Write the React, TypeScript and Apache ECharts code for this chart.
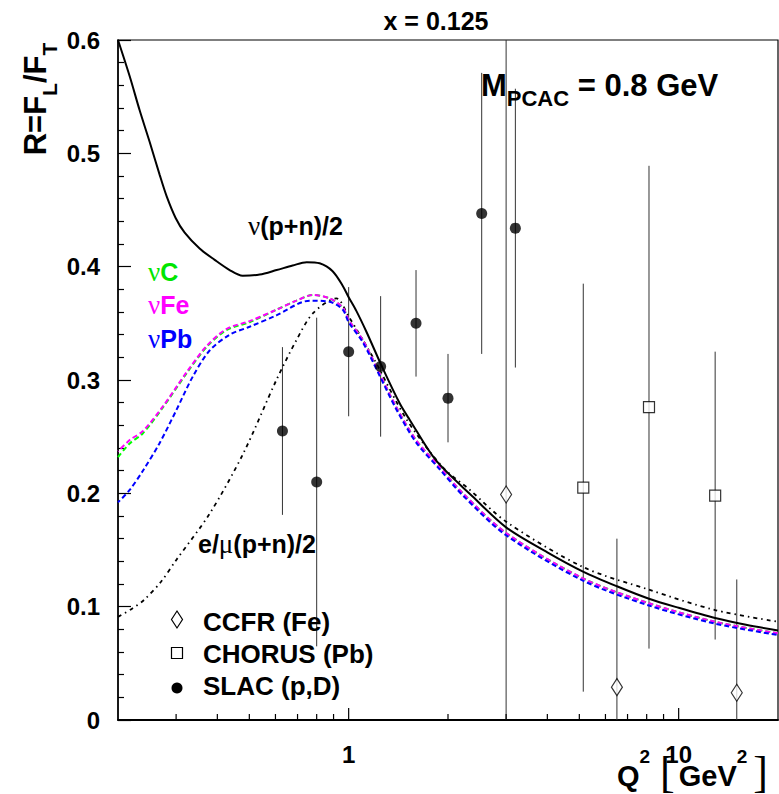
import React, { useEffect, useRef } from 'react';
import * as echarts from 'echarts';

const FONT = '"Liberation Sans", Arial, Helvetica, sans-serif';
const SERIF = '"Liberation Serif", "DejaVu Serif", serif';

// ---------- Data ----------
const nuPNQ2 = [0.2, 0.217, 0.2326, 0.2495, 0.2675, 0.2809, 0.299, 0.3185, 0.3535, 0.3925, 0.4358, 0.4774, 0.5375, 0.6049, 0.6765, 0.7459, 0.8167, 0.8942, 0.96, 1.0, 1.055, 1.13, 1.27, 1.43, 1.53, 1.84, 2.38, 3.0, 4.0, 5.13, 6.5, 8.13, 10, 12.9, 16, 20];
const nuPNR = [0.6, 0.568, 0.538, 0.51, 0.481, 0.462, 0.443, 0.43, 0.416, 0.406, 0.397, 0.392, 0.393, 0.397, 0.401, 0.404, 0.403, 0.396, 0.383, 0.373, 0.361, 0.343, 0.31, 0.279, 0.265, 0.229, 0.197, 0.17, 0.148, 0.131, 0.118, 0.107, 0.099, 0.09, 0.084, 0.079];

const nuCQ2 = [0.2, 0.217, 0.238, 0.274, 0.323, 0.371, 0.426, 0.501, 0.604, 0.694, 0.78, 0.876, 0.96, 1.0, 1.105, 1.24, 1.395, 1.6, 1.89, 2.22, 3.0, 5.13, 8.13, 12.9, 20];
const nuCR = [0.232, 0.244, 0.253, 0.276, 0.306, 0.329, 0.344, 0.351, 0.362, 0.37, 0.375, 0.372, 0.364, 0.353, 0.335, 0.306, 0.276, 0.247, 0.223, 0.2, 0.165, 0.125, 0.103, 0.0867, 0.0765];

const nuFeQ2 = [0.2, 0.217, 0.238, 0.274, 0.323, 0.371, 0.426, 0.501, 0.604, 0.694, 0.78, 0.876, 0.96, 1.0, 1.105, 1.24, 1.395, 1.6, 1.89, 2.22, 3.0, 5.13, 8.13, 12.9, 20];
const nuFeR = [0.237, 0.247, 0.255, 0.277, 0.307, 0.33, 0.345, 0.352, 0.362, 0.37, 0.375, 0.372, 0.364, 0.353, 0.335, 0.306, 0.276, 0.247, 0.223, 0.2, 0.165, 0.125, 0.103, 0.0867, 0.0765];

const nuPbQ2 = [0.2, 0.217, 0.238, 0.267, 0.3, 0.337, 0.379, 0.436, 0.501, 0.604, 0.762, 0.876, 0.96, 1.0, 1.105, 1.24, 1.395, 1.6, 1.89, 2.22, 3.0, 5.13, 8.13, 12.9, 20];
const nuPbR = [0.192, 0.203, 0.22, 0.244, 0.273, 0.303, 0.326, 0.34, 0.347, 0.357, 0.37, 0.369, 0.362, 0.351, 0.333, 0.304, 0.274, 0.245, 0.221, 0.198, 0.163, 0.123, 0.101, 0.085, 0.075];

const emuQ2 = [0.2, 0.22, 0.24, 0.27, 0.3, 0.379, 0.479, 0.604, 0.694, 0.78, 0.918, 1.0, 1.185, 1.5, 1.93, 2.33, 3.0, 5.13, 8.13, 12.9, 20];
const emuR = [0.091, 0.098, 0.106, 0.122, 0.141, 0.182, 0.235, 0.3, 0.335, 0.359, 0.372, 0.356, 0.32, 0.265, 0.223, 0.203, 0.175, 0.135, 0.115, 0.097, 0.0867];

const ccfrQ2 = [3.0, 6.5, 15.0];
const ccfrR = [0.199, 0.029, 0.024];
const ccfrErr = [0.45, 0.131, 0.1];

const chorusQ2 = [5.14, 8.13, 12.9];
const chorusR = [0.205, 0.276, 0.198];
const chorusErr = [0.18, 0.213, 0.127];

const slacQ2 = [0.63, 0.8, 1.0, 1.25, 1.6, 2.0, 2.53, 3.2];
const slacR = [0.255, 0.21, 0.325, 0.312, 0.35, 0.284, 0.447, 0.434];
const slacErr = [0.074, 0.145, 0.057, 0.062, 0.047, 0.039, 0.124, 0.123];

// Axis ranges and ticks
const xMin = 0.2;
const xMax = 20;
const xTickValues = [0.3, 0.4, 0.5, 0.6, 0.7, 0.8, 0.9, 1, 2, 3, 4, 5, 6, 7, 8, 9, 10];
const xLabelValues = [1, 10];

const zip = (a: number[], b: number[]) => a.map((x, i) => [x, b[i]]);

function errorBarSeries(q: number[], r: number[], e: number[]) {
  return {
    type: 'custom',
    coordinateSystem: 'cartesian2d',
    silent: true,
    z: 3,
    data: q.map((x, i) => [x, r[i], e[i]]),
    encode: { x: 0, y: 1 },
    renderItem: (params: any, api: any) => {
      const cs = params.coordSys;
      const x = api.value(0);
      const y = api.value(1);
      const err = api.value(2);
      const top = api.coord([x, y + err]);
      const bot = api.coord([x, y - err]);
      const y1 = Math.max(top[1], cs.y);
      const y2 = Math.min(bot[1], cs.y + cs.height);
      return {
        type: 'line',
        shape: { x1: top[0], y1, x2: top[0], y2 },
        style: { stroke: '#333', lineWidth: 1 },
      };
    },
  };
}

function curve(name: string, q: number[], r: number[], color: string, width: number, type: any, z: number, dashOffset = 0) {
  return {
    name,
    type: 'line',
    data: zip(q, r),
    showSymbol: false,
    smooth: 0.3,
    z,
    lineStyle: { color, width, type, dashOffset },
  };
}

function textGraphics(): any[] {
  return [
    {
      type: 'text', x: 436, y: 21, z: 20,
      style: { text: 'x = 0.125', font: `bold 25px ${FONT}`, fill: '#000', align: 'center', verticalAlign: 'middle' },
    },
    {
      type: 'text', x: 481, y: 85, z: 20,
      style: {
        text: 'M{s|PCAC} = 0.8 GeV', font: `bold 31px ${FONT}`, fill: '#000', align: 'left', verticalAlign: 'middle',
        rich: { s: { font: `bold 22px ${FONT}`, fill: '#000', padding: [27, 0, 0, 0] } },
      },
    },
    {
      type: 'text', x: 35, y: 99, rotation: Math.PI / 2, z: 20,
      style: {
        text: 'R=F{s|L}/F{s|T}', font: `bold 31px ${FONT}`, fill: '#000', align: 'center', verticalAlign: 'middle',
        rich: { s: { font: `bold 21px ${FONT}`, fill: '#000', padding: [28, 0, 0, 0] } },
      },
    },
    {
      type: 'text', x: 617, y: 776, z: 20,
      style: {
        text: 'Q{sup|2}{br|[}GeV{sup|2}{br2|]}', font: `bold 29px ${FONT}`, fill: '#000', align: 'left', verticalAlign: 'middle',
        rich: {
          sup: { font: `bold 19px ${FONT}`, fill: '#000', padding: [0, 0, 40, 0] },
          br: { font: `44px ${SERIF}`, fill: '#000', padding: [0, 4, 8, 10] },
          br2: { font: `44px ${SERIF}`, fill: '#000', padding: [0, 0, 8, 6] },
        },
      },
    },
    {
      type: 'text', x: 248, y: 226, z: 20,
      style: {
        text: '{g|ν}(p+n)/2', font: `bold 25px ${FONT}`, fill: '#000', align: 'left', verticalAlign: 'middle',
        rich: { g: { font: `27px ${SERIF}`, fill: '#000' } },
      },
    },
    {
      type: 'text', x: 148, y: 272, z: 20,
      style: {
        text: '{g|ν}C', font: `bold 25px ${FONT}`, fill: '#00e600', align: 'left', verticalAlign: 'middle',
        rich: { g: { font: `27px ${SERIF}`, fill: '#00e600' } },
      },
    },
    {
      type: 'text', x: 148, y: 305, z: 20,
      style: {
        text: '{g|ν}Fe', font: `bold 25px ${FONT}`, fill: '#ff00ff', align: 'left', verticalAlign: 'middle',
        rich: { g: { font: `27px ${SERIF}`, fill: '#ff00ff' } },
      },
    },
    {
      type: 'text', x: 148, y: 339, z: 20,
      style: {
        text: '{g|ν}Pb', font: `bold 25px ${FONT}`, fill: '#0000ff', align: 'left', verticalAlign: 'middle',
        rich: { g: { font: `27px ${SERIF}`, fill: '#0000ff' } },
      },
    },
    {
      type: 'text', x: 198, y: 544, z: 20,
      style: {
        text: 'e/{g|μ}(p+n)/2', font: `bold 25px ${FONT}`, fill: '#000', align: 'left', verticalAlign: 'middle',
        rich: { g: { font: `27px ${SERIF}`, fill: '#000' } },
      },
    },
    {
      type: 'polygon', z: 20,
      shape: { points: [[177, 611], [182.5, 619.5], [177, 628], [171.5, 619.5]] },
      style: { fill: '#fff', stroke: '#000', lineWidth: 1.2 },
    },
    {
      type: 'rect', z: 20,
      shape: { x: 171.5, y: 647.5, width: 11, height: 11 },
      style: { fill: '#fff', stroke: '#000', lineWidth: 1.2 },
    },
    {
      type: 'circle', z: 20,
      shape: { cx: 177, cy: 688, r: 5.5 },
      style: { fill: '#000' },
    },
    {
      type: 'text', x: 203, y: 622, z: 20,
      style: { text: 'CCFR (Fe)', font: `bold 26px ${FONT}`, fill: '#000', align: 'left', verticalAlign: 'middle' },
    },
    {
      type: 'text', x: 203, y: 654, z: 20,
      style: { text: 'CHORUS (Pb)', font: `bold 26px ${FONT}`, fill: '#000', align: 'left', verticalAlign: 'middle' },
    },
    {
      type: 'text', x: 203, y: 686, z: 20,
      style: { text: 'SLAC (p,D)', font: `bold 26px ${FONT}`, fill: '#000', align: 'left', verticalAlign: 'middle' },
    },
  ];
}

export default function App() {
  const ref = useRef<HTMLDivElement>(null);

  useEffect(() => {
    if (!ref.current) return;
    const chart = echarts.init(ref.current, null, { renderer: 'svg' });

    const option: any = {
      animation: false,
      backgroundColor: '#fff',
      grid: { left: 118, right: 1, top: 40, bottom: 74, show: true, borderColor: '#000', borderWidth: 1.2 },
      xAxis: [
        {
          type: 'log',
          logBase: 10,
          min: xMin,
          max: xMax,
          axisLine: { show: true, onZero: false, lineStyle: { color: '#000', width: 1.8 } },
          axisTick: { show: false },
          splitLine: { show: false },
          axisLabel: { show: false },
        },
      ],
      yAxis: [
        {
          type: 'value',
          min: 0,
          max: 0.6,
          interval: 0.1,
          axisLine: { show: true, onZero: false, lineStyle: { color: '#000', width: 1.5 } },
          axisTick: { show: true, inside: true, length: 13, lineStyle: { color: '#000', width: 1.2 } },
          minorTick: { show: true, splitNumber: 5, length: 6, lineStyle: { color: '#000', width: 1.2 } },
          splitLine: { show: false },
          axisLabel: { margin: 18, color: '#000', fontFamily: FONT, fontWeight: 'bold', fontSize: 24 },
        },
      ],
      series: [
        {
          type: 'custom',
          coordinateSystem: 'cartesian2d',
          z: 7,
          data: xTickValues.map((v) => [v, 0.3]),
          encode: { x: 0, y: 1 },
          renderItem: (params: any, api: any) => {
            const cs = params.coordSys;
            const v = api.value(0);
            const p = api.coord([v, api.value(1)]);
            const lg = Math.log10(v);
            const len = Math.abs(lg - Math.round(lg)) < 1e-6 ? 12 : 6;
            const yb = cs.y + cs.height;
            return {
              type: 'rect',
              shape: { x: p[0] - 0.6, y: yb - len, width: 1.2, height: len },
              style: { fill: '#000' },
            };
          },
        },
        curve('e/mu(p+n)/2', emuQ2, emuR, '#000', 1.8, [4, 4, 1.5, 4], 4),
        curve('nuC', nuCQ2, nuCR, '#00ff00', 2, [5, 3], 4),
        curve('nuFe', nuFeQ2, nuFeR, '#ff00ff', 2, [5, 3], 4, 4),
        curve('nuPb', nuPbQ2, nuPbR, '#0000ff', 2, [5, 3], 4, 2),
        curve('nu(p+n)/2', nuPNQ2, nuPNR, '#000', 2, 'solid', 5),
        errorBarSeries(ccfrQ2, ccfrR, ccfrErr),
        errorBarSeries(chorusQ2, chorusR, chorusErr),
        errorBarSeries(slacQ2, slacR, slacErr),
        {
          name: 'CCFR (Fe)',
          type: 'scatter',
          z: 10,
          data: zip(ccfrQ2, ccfrR),
          symbol: 'diamond',
          symbolSize: [11, 17],
          itemStyle: { color: '#fff', borderColor: '#000', borderWidth: 1.2 },
        },
        {
          name: 'CHORUS (Pb)',
          type: 'scatter',
          z: 10,
          data: zip(chorusQ2, chorusR),
          symbol: 'rect',
          symbolSize: 11,
          itemStyle: { color: '#fff', borderColor: '#000', borderWidth: 1.2 },
        },
        {
          name: 'SLAC (p,D)',
          type: 'scatter',
          z: 10,
          data: zip(slacQ2, slacR),
          symbol: 'circle',
          symbolSize: 11,
          itemStyle: { color: '#000' },
        },
      ],
      graphic: textGraphics(),
    };

    chart.setOption(option);

    // x-axis labels placed through the axis scale
    const bottom = chart.convertToPixel({ yAxisIndex: 0 }, 0) as number;
    const labels = xLabelValues.map((v) => ({
      type: 'text',
      z: 20,
      x: chart.convertToPixel({ xAxisIndex: 0 }, v) as number,
      y: bottom + 34,
      style: { text: String(v), font: `bold 24px ${FONT}`, fill: '#000', align: 'center', verticalAlign: 'middle' },
    }));
    chart.setOption({ graphic: [...textGraphics(), ...labels] });

    return () => chart.dispose();
  }, []);

  return (
    <div
      ref={ref}
      style={{ position: 'fixed', left: 0, top: 0, width: 779, height: 794, background: '#fff' }}
    />
  );
}
